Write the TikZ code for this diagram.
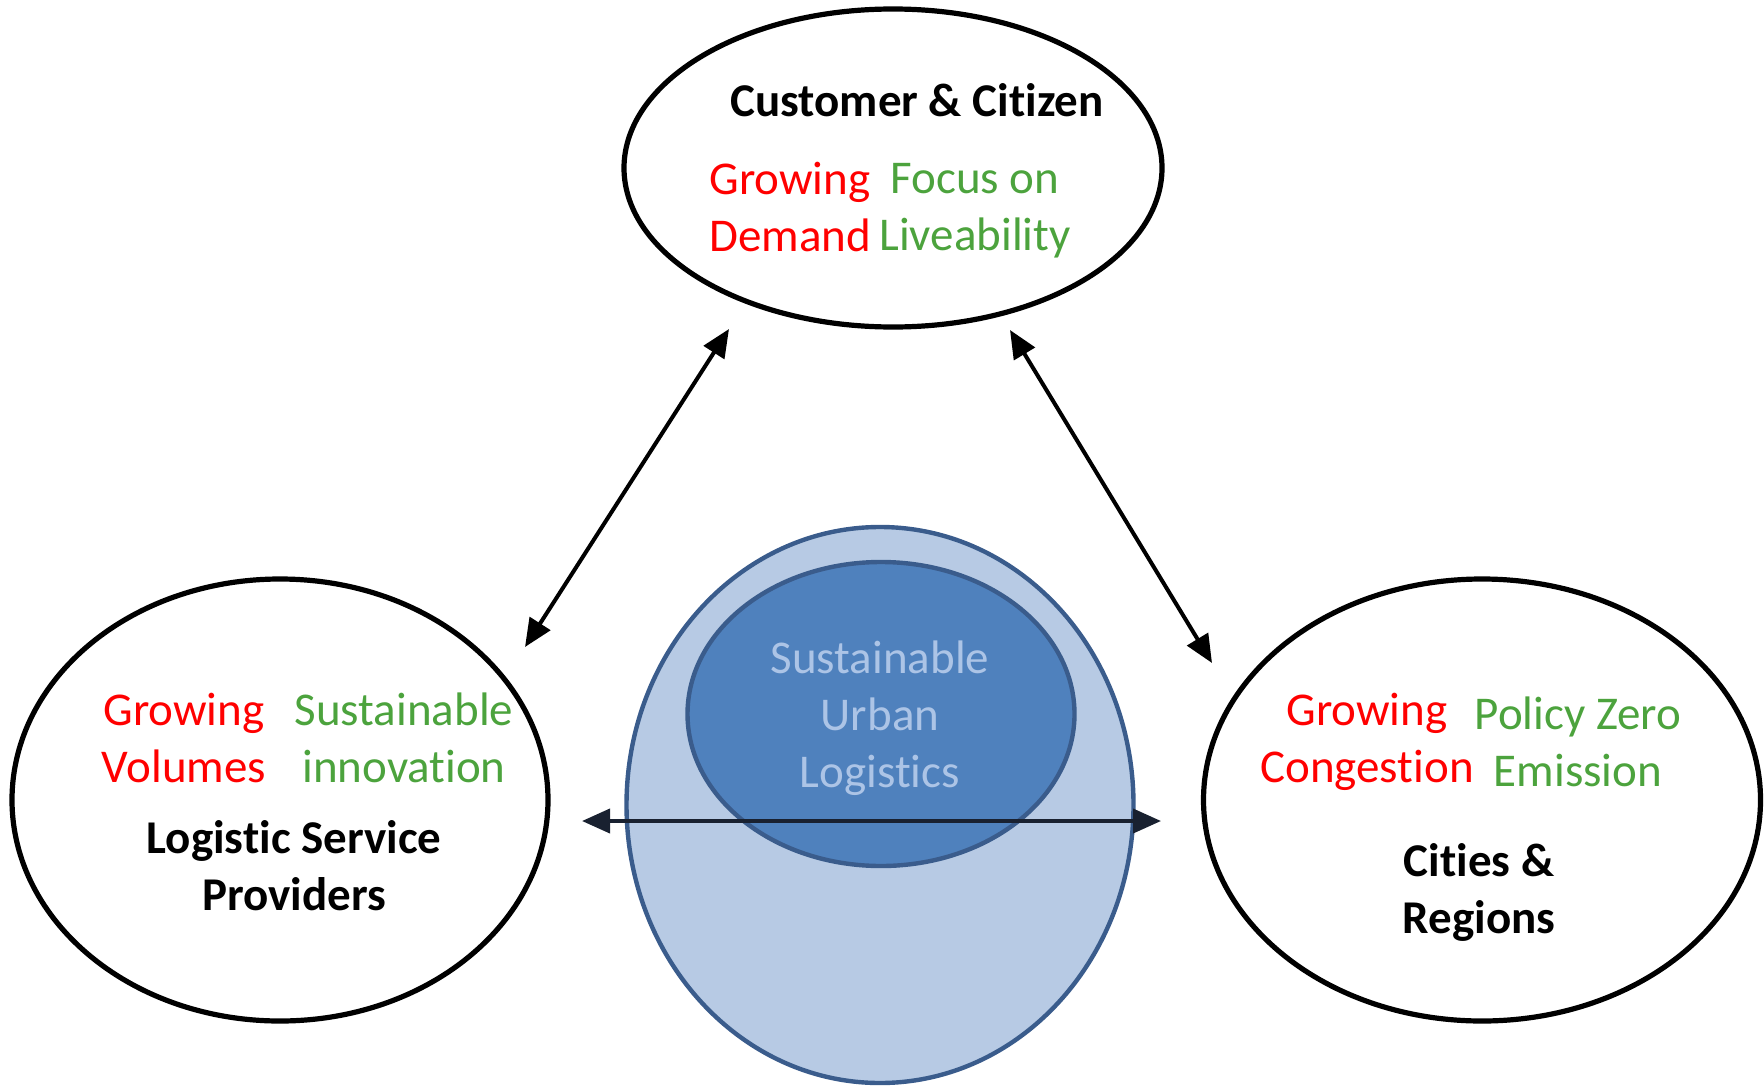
\documentclass[tikz,border=0pt]{standalone}
\usepackage{fontspec}
\setmainfont{Carlito}[Ligatures={NoCommon,NoContextual,NoRare}]
\usetikzlibrary{shapes.geometric,arrows.meta}
\definecolor{rd}{RGB}{255,0,0}
\definecolor{gn}{RGB}{76,163,61}
\definecolor{lightfill}{RGB}{183,202,228}
\definecolor{darkfill}{RGB}{79,129,189}
\definecolor{blueline}{RGB}{58,92,140}
\definecolor{txtblue}{RGB}{172,196,230}
\definecolor{navyline}{RGB}{25,33,48}
\begin{document}
\begin{tikzpicture}[x=0.5pt,y=-0.5pt,
  actor/.style={ellipse, draw=black, line width=2.6pt, inner sep=0pt},
  blob/.style={ellipse, draw=blueline, line width=2.2pt, inner sep=0pt},
  txt/.style={font=\fontsize{23.5}{28.5}\selectfont, align=center, inner sep=0pt},
  title/.style={font=\fontsize{23.5}{28.5}\selectfont\bfseries, align=center, inner sep=0pt},
  link/.style={line width=2pt, {Triangle[length=14pt,width=12pt]}-{Triangle[length=14pt,width=12pt]}}]
\useasboundingbox (0,0) rectangle (1764,1086);
\node[actor, minimum width=269pt, minimum height=159pt] (top) at (893,168) {};
\node[actor, minimum width=268pt, minimum height=221pt] (lsp) at (280,800) {};
\node[actor, minimum width=278.5pt, minimum height=221pt] (city) at (1482,800) {};
\node[blob, fill=lightfill, minimum width=253.5pt, minimum height=278pt] (outer) at (880,805) {};
\node[blob, fill=darkfill, minimum width=193.5pt, minimum height=152pt] (inner) at (881,714) {};
% texts
\node[title] (toptitle) at (917,100) {Customer \& Citizen};
\node[txt, text=rd] (topred) at (790,207) {Growing\\Demand};
\node[txt, text=gn] (topgreen) at (975,211) {Focus on\\Liveability};
\node[txt, text=rd] (lspred) at (184,738) {Growing\\Volumes};
\node[txt, text=gn] (lspgreen) at (404,738) {Sustainable\\innovation};
\node[title] (lsptitle) at (294,866) {Logist\kern0pt ic Service\\Providers};
\node[txt, text=rd] (cityred) at (1367,742) {Growing\\Congest\kern0pt ion};
\node[txt, text=gn] (citygreen) at (1578,742) {Policy Zero\\Emission};
\node[title] (citytitle) at (1479,892) {Cities \&\\Regions};
\node[txt, text=txtblue] (sul) at (880,718) {Sustainable\\Urban\\Logist\kern0pt ics};
% connectors
\coordinate (l1) at (525,647); \coordinate (t1) at (729,329);
\coordinate (t2) at (1010,330); \coordinate (r1) at (1212,663);
\coordinate (l2) at (582,821); \coordinate (r2) at (1161,821);
\draw[link] (l1) -- (t1);
\draw[link] (t2) -- (r1);
\draw[link, color=navyline] (l2) -- (r2);
\end{tikzpicture}
\end{document}
